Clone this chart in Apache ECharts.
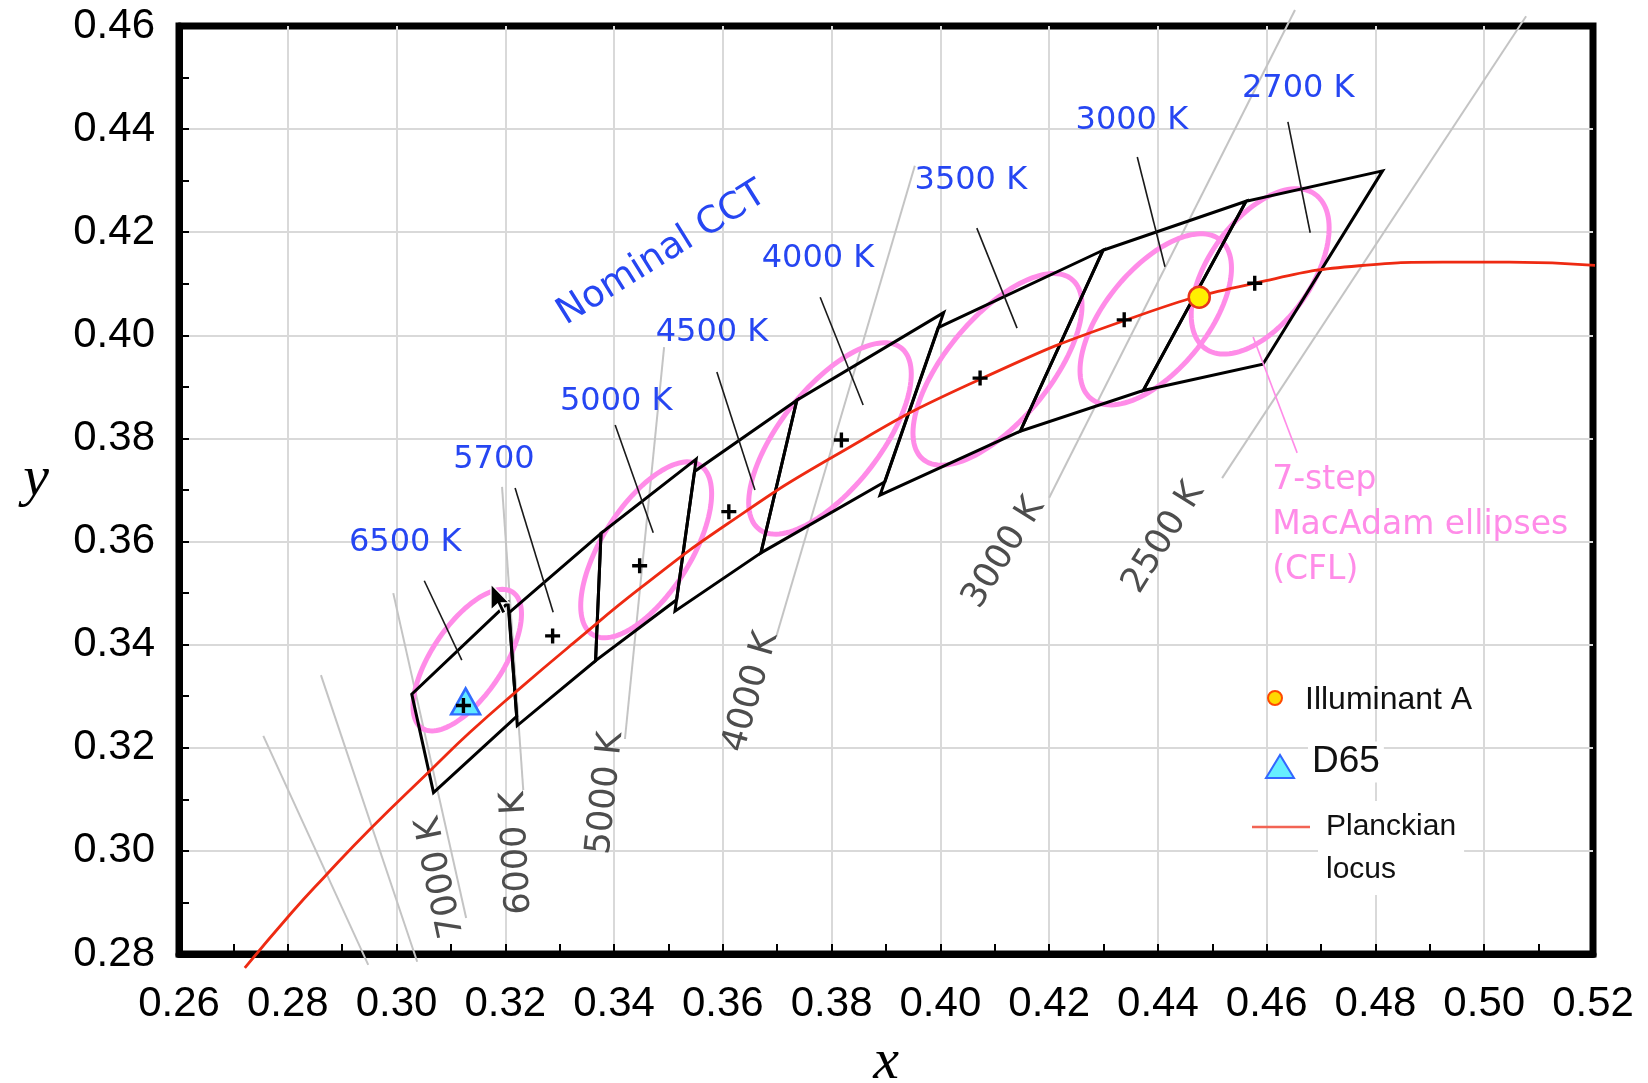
<!DOCTYPE html>
<html><head><meta charset="utf-8">
<script src="https://cdn.jsdelivr.net/npm/echarts@6/dist/echarts.min.js"></script>
<style>html,body{margin:0;padding:0;background:#fff}#c{width:1648px;height:1083px}</style>
</head><body><div id="c"></div>
<script>
// ---------------- DATA (CIE 1931 x,y) ----------------
// Nominal CCT quadrangles
const cctLabels = ['6500 K', '5700', '5000 K', '4500 K', '4000 K', '3500 K', '3000 K', '2700 K'];
const centerX = [0.3123, 0.3287, 0.3447, 0.3611, 0.3818, 0.4073, 0.4338, 0.4578];
const centerY = [0.3282, 0.3417, 0.3553, 0.3658, 0.3797, 0.3917, 0.4030, 0.4101];
const quadX = [
  [0.3205, 0.3028, 0.3068, 0.3221],
  [0.3376, 0.3207, 0.3222, 0.3366],
  [0.3551, 0.3376, 0.3366, 0.3515],
  [0.3736, 0.3548, 0.3512, 0.3670],
  [0.4006, 0.3736, 0.3670, 0.3898],
  [0.4299, 0.3996, 0.3889, 0.4147],
  [0.4562, 0.4299, 0.4147, 0.4373],
  [0.4813, 0.4562, 0.4373, 0.4593]
];
const quadY = [
  [0.3481, 0.3304, 0.3113, 0.3261],
  [0.3616, 0.3462, 0.3243, 0.3369],
  [0.3760, 0.3616, 0.3369, 0.3487],
  [0.3874, 0.3736, 0.3465, 0.3578],
  [0.4044, 0.3874, 0.3578, 0.3716],
  [0.4165, 0.4015, 0.3690, 0.3814],
  [0.4260, 0.4165, 0.3814, 0.3893],
  [0.4319, 0.4260, 0.3893, 0.3944]
];
// label anchor and leader line for each nominal CCT
const cctLabelX = [0.3016, 0.3179, 0.3404, 0.3580, 0.3775, 0.4056, 0.4352, 0.4658];
const cctLabelY = [0.3597, 0.3758, 0.3871, 0.4006, 0.4148, 0.4299, 0.4416, 0.4478];
const leadX1 = [0.3051, 0.3218, 0.3402, 0.3589, 0.3779, 0.4067, 0.4362, 0.4639];
const leadY1 = [0.3524, 0.3704, 0.3826, 0.3929, 0.4074, 0.4208, 0.4346, 0.4414];
const leadX2 = [0.3120, 0.3288, 0.3472, 0.3659, 0.3858, 0.4141, 0.4413, 0.4680];
const leadY2 = [0.3370, 0.3463, 0.3617, 0.3700, 0.3865, 0.4014, 0.4133, 0.4199];

// 7-step MacAdam ellipses (CFL): centre, semi-axes, angle (deg)
const ellipseCX = [0.3130, 0.3459, 0.3797, 0.4105, 0.4396, 0.4588];
const ellipseCY = [0.3370, 0.3584, 0.3800, 0.3934, 0.4031, 0.4124];
const ellipseA  = [0.01561, 0.01918, 0.02191, 0.02219, 0.01946, 0.01806];
const ellipseB  = [0.00665, 0.00826, 0.00938, 0.00973, 0.00952, 0.00959];
const ellipseAngle = [58.23, 59.62, 54.00, 52.58, 53.22, 57.17];

// Planckian locus
const locusX = [0.2721, 0.2807, 0.2866, 0.2952, 0.3064, 0.3135, 0.3221, 0.3324, 0.3451, 0.3608, 0.3805, 0.4053, 0.4369, 0.4599, 0.4770, 0.4924, 0.5046, 0.5226];
const locusY = [0.2773, 0.2880, 0.2948, 0.3043, 0.3158, 0.3230, 0.3310, 0.3402, 0.3512, 0.3634, 0.3766, 0.3905, 0.4040, 0.4106, 0.4135, 0.4142, 0.4142, 0.4134];

// Isotherm (iso-CCT) lines
const isoLabels = ['', '', '7000 K', '6000 K', '5000 K', '4000 K', '3000 K', '2500 K'];
const isoX1 = [0.2755, 0.2861, 0.2994, 0.3194, 0.3492, 0.3953, 0.4652, 0.5077];
const isoY1 = [0.3223, 0.3341, 0.3500, 0.3706, 0.3977, 0.4329, 0.4631, 0.4619];
const isoX2 = [0.2948, 0.3038, 0.3128, 0.3233, 0.3420, 0.3698, 0.4200, 0.4518];
const isoY2 = [0.2779, 0.2785, 0.2870, 0.3118, 0.3217, 0.3415, 0.3685, 0.3723];
const isoLabelX = [null, null, 0.3082, 0.3222, 0.3385, 0.3652, 0.4117, 0.4411];
const isoLabelY = [null, null, 0.2949, 0.2996, 0.3112, 0.3308, 0.3578, 0.3607];
const isoLabelRot = [0, 0, 102, 93, 84, 74, 58, 58];

// Reference illuminants
const illumA = [0.4476, 0.4074];
const d65 = [0.3127, 0.3290];

// Annotations
const nominalText = 'Nominal CCT';
const nominalPos = [0.3488, 0.4158];
const ellipseNote = '7-step\nMacAdam ellipses\n(CFL)';
const ellipseNotePos = [0.4610, 0.3632];
const ellipseLead = [0.4575, 0.3997, 0.4656, 0.3772];

// ---------------- CHART ----------------
const chart = echarts.init(document.getElementById('c'), null, {renderer: 'canvas'});
const BLUE = '#2646f2', PINK = '#ff8ce8', GRAY = '#c4c4c4';
const SANS = '"DejaVu Sans", sans-serif';
const AX = '"Liberation Sans", Arial, sans-serif';

function segSeries(data, stroke, width, z) {
  return {
    type: 'custom', coordinateSystem: 'cartesian2d', clip: false, silent: true, z: z,
    data: data,
    renderItem: function (params, api) {
      const p1 = api.coord([api.value(0), api.value(1)]);
      const p2 = api.coord([api.value(2), api.value(3)]);
      return {type: 'line', shape: {x1: p1[0], y1: p1[1], x2: p2[0], y2: p2[1]},
              style: {stroke: stroke, lineWidth: width}};
    }
  };
}
function textSeries(data, texts, rots, font, fill, z, align, lineHeight) {
  return {
    type: 'custom', coordinateSystem: 'cartesian2d', clip: false, silent: true, z: z,
    data: data,
    renderItem: function (params, api) {
      const p = api.coord([api.value(0), api.value(1)]);
      const i = params.dataIndex;
      return {type: 'text', x: p[0], y: p[1], rotation: (rots[i] || 0) * Math.PI / 180,
              style: {text: texts[i], font: font, fill: fill, align: align || 'center',
                      verticalAlign: 'middle', lineHeight: lineHeight}};
    }
  };
}

const isoSegData = isoX1.map((x, i) => [x, isoY1[i], isoX2[i], isoY2[i]]);
const isoLblIdx = isoLabels.map((t, i) => i).filter(i => isoLabels[i]);
const leadData = leadX1.map((x, i) => [x, leadY1[i], leadX2[i], leadY2[i]]);

const option = {
  animation: false,
  backgroundColor: '#fff',
  grid: {left: 179, top: 26, width: 1414, height: 928, show: true, borderColor: '#000', borderWidth: 7,
         backgroundColor: 'transparent', containLabel: false, outerBoundsMode: 'none'},
  xAxis: {
    type: 'value', min: 0.26, max: 0.52, interval: 0.02,
    axisLine: {show: true, onZero: false, lineStyle: {color: '#000', width: 7}},
    axisTick: {show: true, inside: true, length: 10, lineStyle: {color: '#000', width: 2}},
    minorTick: {show: true, splitNumber: 2, length: 10, lineStyle: {color: '#000', width: 2}},
    splitLine: {show: true, showMinLine: false, showMaxLine: false, lineStyle: {color: '#d9d9d9', width: 2}},
    axisLabel: {formatter: v => v.toFixed(2), fontSize: 42, color: '#000', fontFamily: AX, margin: 29,
                showMinLabel: true, showMaxLabel: true},
    name: 'x', nameLocation: 'middle', nameGap: 80,
    nameTextStyle: {fontFamily: '"Liberation Serif", serif', fontStyle: 'italic', fontSize: 58, color: '#000'}
  },
  yAxis: {
    type: 'value', min: 0.28, max: 0.46, interval: 0.02,
    axisLine: {show: true, onZero: false, lineStyle: {color: '#000', width: 7}},
    axisTick: {show: true, inside: true, length: 10, lineStyle: {color: '#000', width: 2}},
    minorTick: {show: true, splitNumber: 2, length: 10, lineStyle: {color: '#000', width: 2}},
    splitLine: {show: true, showMinLine: false, showMaxLine: false, lineStyle: {color: '#d9d9d9', width: 2}},
    axisLabel: {formatter: v => v.toFixed(2), fontSize: 42, color: '#000', fontFamily: AX, margin: 24,
                showMinLabel: true, showMaxLabel: true},
    name: 'y\n', nameLocation: 'middle', nameGap: 130, nameRotate: 0,
    nameTextStyle: {fontFamily: '"Liberation Serif", serif', fontStyle: 'italic', fontSize: 58, color: '#000',
                    lineHeight: 20}
  },
  series: [
    // isotherm lines
    segSeries(isoSegData, GRAY, 2, 2),
    textSeries(isoLblIdx.map(i => [isoLabelX[i], isoLabelY[i]]), isoLblIdx.map(i => isoLabels[i]),
               isoLblIdx.map(i => isoLabelRot[i]), '35px ' + SANS, '#4d4d4d', 2),
    // MacAdam ellipses
    {
      type: 'custom', coordinateSystem: 'cartesian2d', clip: false, silent: true, z: 3,
      data: ellipseCX.map((x, i) => [x, ellipseCY[i]]),
      renderItem: function (params, api) {
        const i = params.dataIndex;
        const cx = api.value(0), cy = api.value(1);
        const a = ellipseA[i], b = ellipseB[i], th = ellipseAngle[i] * Math.PI / 180;
        const pts = [];
        for (let k = 0; k < 120; k++) {
          const t = k / 120 * 2 * Math.PI;
          const dx = a * Math.cos(t) * Math.cos(th) - b * Math.sin(t) * Math.sin(th);
          const dy = a * Math.cos(t) * Math.sin(th) + b * Math.sin(t) * Math.cos(th);
          pts.push(api.coord([cx + dx, cy + dy]));
        }
        return {type: 'polygon', shape: {points: pts}, style: {fill: 'none', stroke: PINK, lineWidth: 5}};
      }
    },
    // quadrangles
    {
      type: 'custom', coordinateSystem: 'cartesian2d', clip: false, silent: true, z: 4,
      data: quadX.map((q, i) => q.concat(quadY[i])),
      renderItem: function (params, api) {
        const pts = [];
        for (let k = 0; k < 4; k++) pts.push(api.coord([api.value(k), api.value(k + 4)]));
        return {type: 'polygon', shape: {points: pts},
                style: {fill: 'none', stroke: '#000', lineWidth: 3, lineJoin: 'miter'}};
      }
    },
    // Planckian locus
    {
      type: 'line', z: 5, clip: false, smooth: 0.5, showSymbol: false, symbol: 'none', silent: true,
      data: locusX.map((x, i) => [x, locusY[i]]),
      lineStyle: {color: '#ee2a12', width: 2.8}
    },
    // leader lines
    segSeries(leadData, '#1a1a1a', 1.6, 6),
    segSeries([ellipseLead], PINK, 1.6, 6),
    // nominal CCT labels
    textSeries(cctLabelX.map((x, i) => [x, cctLabelY[i]]), cctLabels, [], '32px ' + SANS, BLUE, 7),
    textSeries([nominalPos], [nominalText], [32], '37px ' + SANS, BLUE, 7),
    textSeries([ellipseNotePos], [ellipseNote], [0], '33px ' + SANS, PINK, 7, 'left', 45),
    // D65
    {
      type: 'scatter', z: 8, silent: true, symbol: 'triangle', symbolSize: [29, 26],
      data: [d65], itemStyle: {color: '#5fe9ff', borderColor: '#2f6cff', borderWidth: 2.5, opacity: 1}
    },
    // nominal centres
    {
      type: 'scatter', z: 9, silent: true,
      symbol: 'path://M0,6.2L16,6.2L16,9.8L0,9.8Z M6.2,0L9.8,0L9.8,16L6.2,16Z', symbolSize: 15,
      data: centerX.map((x, i) => [x, centerY[i]]), itemStyle: {color: '#000', opacity: 1}
    },
    // Illuminant A
    {
      type: 'scatter', z: 9, silent: true, symbol: 'circle', symbolSize: 21,
      data: [illumA], itemStyle: {color: '#fff000', borderColor: '#e8361a', borderWidth: 2.5, opacity: 1}
    }
  ],
  graphic: [
    // legend
    {type: 'circle', z: 20, shape: {cx: 1275, cy: 698, r: 7}, style: {fill: '#ffd800', stroke: '#ff4a00', lineWidth: 2}},
    {type: 'text', z: 20, x: 1305, y: 700, style: {text: 'Illuminant A', font: '32px ' + AX, fill: '#111', verticalAlign: 'middle'}},
    {type: 'polygon', z: 20, shape: {points: [[1266, 778], [1294, 778], [1280, 755]]}, style: {fill: '#66eeff', stroke: '#3366ff', lineWidth: 2}},
    {type: 'text', z: 20, x: 1308, y: 762, style: {text: 'D65', font: '37px ' + AX, fill: '#111', verticalAlign: 'middle', backgroundColor: '#fff', padding: [2, 4]}},
    {type: 'line', z: 20, shape: {x1: 1252, y1: 827, x2: 1310, y2: 827}, style: {stroke: '#f26454', lineWidth: 2.5}},
    {type: 'text', z: 20, x: 1318, y: 848, style: {text: 'Planckian\nlocus', font: '30px ' + AX, lineHeight: 43, fill: '#111', verticalAlign: 'middle', backgroundColor: '#fff', padding: [4, 8]}},
    // mouse pointer captured in the screenshot
    {type: 'polygon', z: 30, x: 491, y: 584, scaleX: 1.3, scaleY: 1.3,
     shape: {points: [[0, 0], [0, 20], [5, 15.5], [8.5, 23], [11.5, 21.7], [8, 14.5], [14, 14.5]]},
     style: {fill: '#000', stroke: '#fff', lineWidth: 1}}
  ]
};
chart.setOption(option);
</script></body></html>
